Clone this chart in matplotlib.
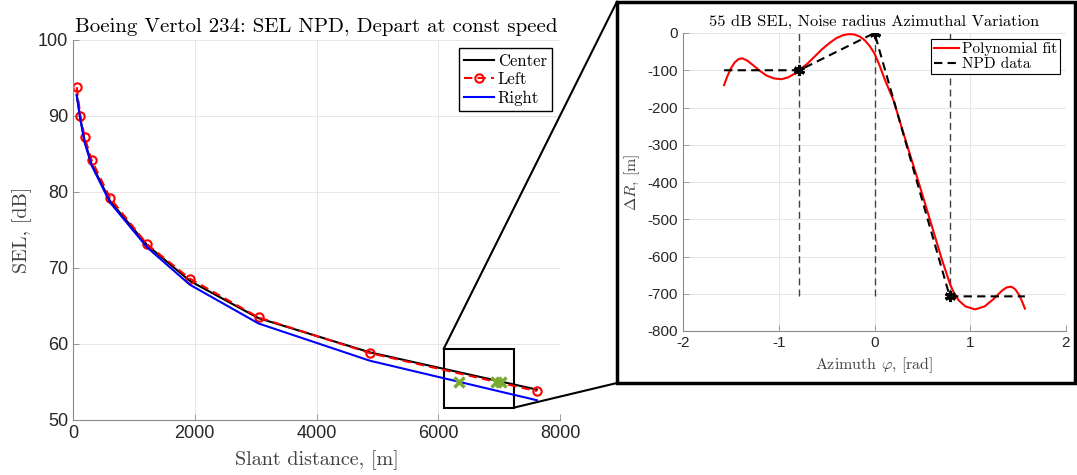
import matplotlib
matplotlib.use("Agg")
import matplotlib.pyplot as plt
from matplotlib.patches import Rectangle, ConnectionPatch

plt.rcParams['mathtext.fontset'] = 'cm'
plt.rcParams['axes.unicode_minus'] = False
plt.rcParams['font.family'] = ['Liberation Sans', 'DejaVu Sans']

# SEL vs slant distance (NPD standard distances, metres)
dist = [61, 122, 192, 305, 610, 1219, 1920, 3048, 4877, 7620]
sel_center = [92.8, 89.6, 86.7, 83.7, 78.8, 73.0, 68.3, 63.4, 58.9, 54.0]
sel_left = [93.8, 90.0, 87.2, 84.2, 79.2, 73.1, 68.6, 63.5, 58.8, 53.8]
sel_right = [92.7, 89.5, 86.5, 83.5, 78.6, 72.7, 67.8, 62.7, 57.8, 52.6]

# 55 dB crossings (right, left, center)
x55 = [6345, 6955, 7035]
y55 = [55, 55, 55]

# azimuthal variation of the 55 dB radius
phi_npd = [-1.5708, -0.7854, 0.0, 0.7854, 1.5708]
dR_npd = [-100, -100, 0, -707, -707]
phi_mark = [-0.7854, 0.0, 0.7854]
dR_mark = [-100, 0, -707]

phi_fit = [-1.571, -1.54, -1.50, -1.46, -1.42, -1.38, -1.33, -1.27, -1.20, -1.13,
           -1.05, -0.97, -0.90, -0.84, -0.785, -0.70, -0.62, -0.55, -0.47, -0.40,
           -0.33, -0.27, -0.21, -0.15, -0.10, -0.05, 0.0, 0.05, 0.10, 0.20,
           0.34, 0.46, 0.58, 0.70, 0.79, 0.83, 0.88, 0.95, 1.05, 1.15,
           1.24, 1.33, 1.38, 1.43, 1.47, 1.51, 1.54, 1.571]
dR_fit = [-140, -118, -95, -79, -70, -68, -74, -86, -101, -114,
          -122, -124, -119, -110, -100, -82, -62, -44, -27, -14,
          -6, -3, -4, -10, -20, -35, -55, -85, -120, -182,
          -301, -400, -502, -605, -675, -698, -718, -734, -742, -734,
          -715, -692, -683, -681, -688, -703, -720, -740]

grey = '#262626'
spine_c = '#8a8a8a'
serif = 'cmr10'


def style_axes(ax, fs):
    for s in ['top', 'right']:
        ax.spines[s].set_visible(False)
    for s in ['left', 'bottom']:
        ax.spines[s].set_color(spine_c)
        ax.spines[s].set_linewidth(0.8)
    ax.tick_params(direction='in', length=4, width=0.6, color=spine_c,
                   labelcolor=grey, labelsize=fs)
    ax.grid(True, color='#e6e6e6', linewidth=0.7)
    ax.set_axisbelow(True)


fig = plt.figure(figsize=(10.77, 4.75), dpi=100)

# main plot
ax = fig.add_axes([73/1077, 1-420/475, (560-73)/1077, (420-40)/475])
ax.plot(dist, sel_center, color='black', lw=1.5, label='Center')
ax.plot(dist, sel_left, color='red', lw=1.5, ls='--', dashes=(4, 2.5), marker='o',
        ms=6, mfc='none', mew=1.5, label='Left')
ax.plot(dist, sel_right, color='blue', lw=1.5, label='Right')
ax.plot(x55, y55, ls='none', marker='x', color='#77AC30', ms=7, mew=2.5)
ax.set_xlim(0, 8000)
ax.set_ylim(50, 100)
ax.set_xticks([0, 2000, 4000, 6000, 8000])
ax.set_yticks([50, 60, 70, 80, 90, 100])
style_axes(ax, 13)
ax.set_title('Boeing Vertol 234: SEL NPD, Depart at const speed',
             fontfamily=serif, fontsize=15, pad=6)
ax.set_xlabel('Slant distance, [m]', fontfamily=serif, fontsize=14.5,
              color='#404040', labelpad=6)
ax.set_ylabel('SEL, [dB]', fontfamily=serif, fontsize=14.5, color='#404040')
leg = ax.legend(loc='upper right', prop={'family': serif, 'size': 12},
                fancybox=False, edgecolor='black', framealpha=1,
                handlelength=1.8, handletextpad=0.2, borderpad=0.3,
                labelspacing=0.2, borderaxespad=0.5)
leg.get_frame().set_linewidth(1.0)

# zoom box around the 55 dB crossings
box_x0, box_x1, box_y0, box_y1 = 6088, 7249, 51.64, 59.34
ax.add_patch(Rectangle((box_x0, box_y0), box_x1 - box_x0, box_y1 - box_y0,
                       fill=False, edgecolor='black', lw=1.5, clip_on=False))

# inset plot
ax2 = fig.add_axes([683/1077, 1-331/475, (1066-683)/1077, (331-33)/475])
ax2.vlines(phi_mark, [min(dR_npd)] * 3, 0, colors='#404040', linestyles=(0, (5, 3)), lw=1)
ax2.plot(phi_fit, dR_fit, color='red', lw=1.5, label='Polynomial fit')
ax2.plot(phi_npd, dR_npd, color='black', lw=1.5, ls='--', dashes=(4, 2.5), label='NPD data')
ax2.plot(phi_mark, dR_mark, ls='none', marker=(6, 2, 0), color='black', ms=8, mew=2.2)
ax2.set_xlim(-2, 2)
ax2.set_ylim(-800, 0)
ax2.set_xticks([-2, -1, 0, 1, 2])
ax2.set_yticks(range(-800, 1, 100))
style_axes(ax2, 11)
ax2.set_title('55 dB SEL, Noise radius Azimuthal Variation',
              fontfamily=serif, fontsize=11.8, pad=5)
ax2.set_xlabel(r'Azimuth $\varphi$, [rad]', fontfamily=serif, fontsize=11.5, color='#404040')
ax2.set_ylabel(r'$\Delta R$, [m]', fontfamily=serif, fontsize=11.5, color='#404040')
leg2 = ax2.legend(loc='upper right', prop={'family': serif, 'size': 11},
                  fancybox=False, edgecolor='black', framealpha=1,
                  handlelength=1.6, handletextpad=0.2, borderpad=0.2,
                  labelspacing=0.1, borderaxespad=0.4)
leg2.get_frame().set_linewidth(0.8)

# frame around the inset
fx0, fx1 = 617/1077, 1075/1077
fy0, fy1 = 1 - 383/475, 1 - 1.5/475
fig.add_artist(Rectangle((fx0, fy0), fx1 - fx0, fy1 - fy0, transform=fig.transFigure,
                         fill=False, edgecolor='black', lw=2.5))

# connectors from zoom box to inset frame
fig.add_artist(ConnectionPatch(xyA=(box_x0, box_y1), coordsA=ax.transData,
                               xyB=(fx0, fy1), coordsB=fig.transFigure,
                               color='black', lw=1.5))
fig.add_artist(ConnectionPatch(xyA=(box_x1, box_y0), coordsA=ax.transData,
                               xyB=(fx0, fy0), coordsB=fig.transFigure,
                               color='black', lw=1.5))

fig.savefig('out.png', dpi=100)
